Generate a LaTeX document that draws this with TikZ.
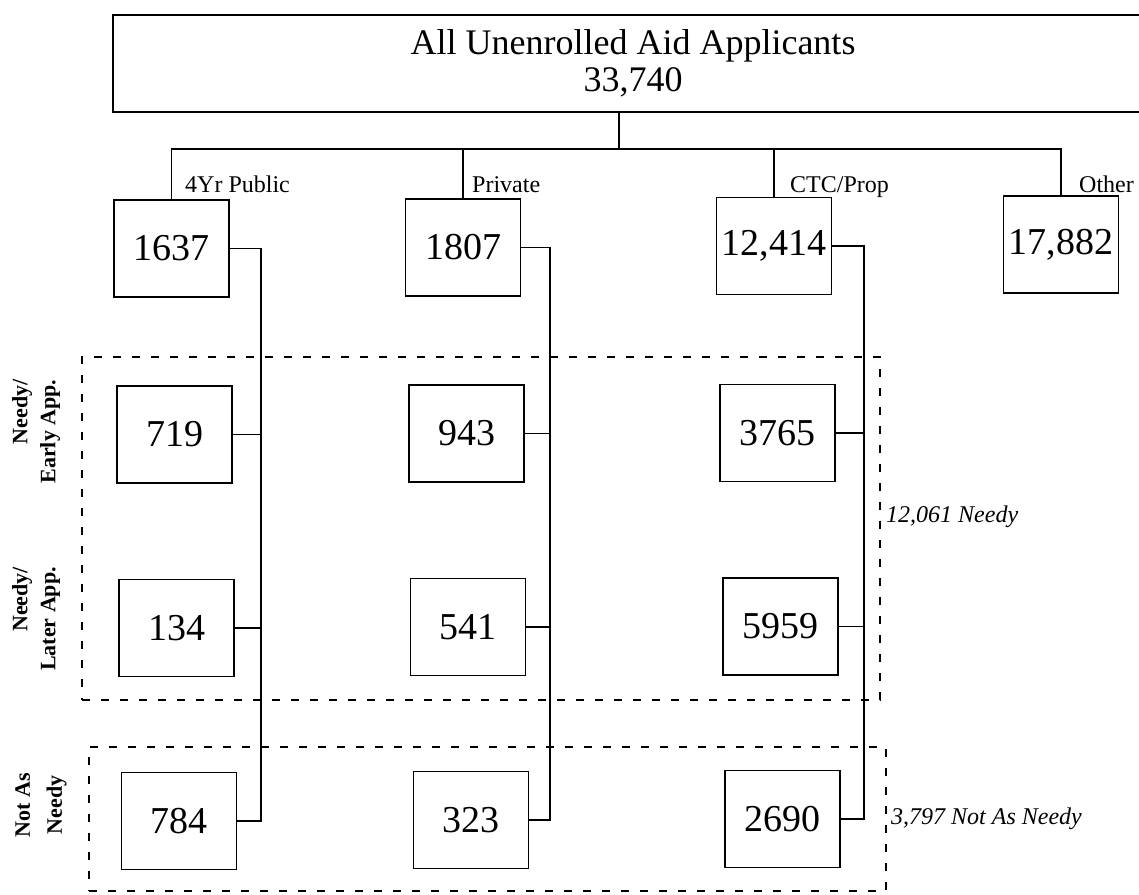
\documentclass[tikz,border=0pt]{standalone}
\usepackage{fontspec}
\setmainfont{Liberation Serif}
\usepackage{tikz}
\usetikzlibrary{positioning, calc}

\begin{document}
\begin{tikzpicture}[
  x=1pt, y=-1pt,
  line/.style={line width=1.5pt},
  head/.style={draw, line width=1.5pt, minimum width=1040pt, minimum height=97pt,
               inner sep=0pt, align=center, font=\fontsize{36}{37}\selectfont},
  numbox/.style={draw, line width=1.5pt, minimum width=115pt, minimum height=97pt,
                 inner sep=0pt, font=\fontsize{38}{40}\selectfont},
  branch/.style={anchor=base west, inner sep=0pt, font=\fontsize{24}{26}\selectfont},
  rowlbl/.style={rotate=90, inner sep=0pt, align=right,
                 font=\bfseries\fontsize{22}{28}\selectfont},
  total/.style={anchor=west, inner sep=0pt, font=\itshape\fontsize{24}{26}\selectfont},
  grp/.style={draw, line width=1.5pt, dash pattern=on 8pt off 11pt, inner sep=0pt},
]
\useasboundingbox (0,0) rectangle (1139,894);

% --- All applicants ---
\node[head] (all) at (633,63.5) {All Unenrolled Aid Applicants\\33,740};
\coordinate (bus) at (619,149);

% --- Sectors ---
\node[numbox] (pub) at (171.5,248.5) {1637};
\node[numbox] (prv) at (463,247.5) {1807};
\node[numbox] (ctc) at (774,246) {12,414};
\node[numbox] (oth) at (1061,244.5) {17,882};

\node[branch] (publbl) at (185,192) {4Yr Public};
\node[branch] (prvlbl) at (472,192) {Private};
\node[branch] (ctclbl) at (790,192) {CTC/Prop};
\node[branch] (othlbl) at (1079,192) {Other};

% --- Needy, early applicants ---
\node[numbox] (ea1) at (174.5,434.5) {719};
\node[numbox] (ea2) at (466.5,433.5) {943};
\node[numbox] (ea3) at (777.5,433) {3765};

% --- Needy, later applicants ---
\node[numbox] (la1) at (176.5,628) {134};
\node[numbox] (la2) at (468,627) {541};
\node[numbox] (la3) at (780.5,626.5) {5959};

% --- Not as needy ---
\node[numbox] (nn1) at (179,821) {784};
\node[numbox] (nn2) at (471,820) {323};
\node[numbox] (nn3) at (782.5,819) {2690};

% Group frames
\node[grp, minimum width=798pt, minimum height=343pt] (needy) at (481,528.5) {};
\node[grp, minimum width=797pt, minimum height=144pt] (notneedy) at (487.5,819) {};

% Row labels
\node[rowlbl] (earlylbl) at (36,431.5) {Needy/\\Early App.};
\node[rowlbl] (laterlbl) at (36,619) {Needy/\\Later App.};
\node[rowlbl, align=center, font=\bfseries\fontsize{22}{32}\selectfont] (notlbl) at (41,805) {Not As\\Needy};

% Totals
\node[total] (needytot) at (886,517) {12,061 Needy};
\node[total] (nottot) at (891,819) {3,797 Not As Needy};

% Tree
\draw[line] (all.south -| bus) -- (bus);
\draw[line] (pub.north) |- (oth.north |- bus) -- (oth.north);
\draw[line] (prv.north) -- (prv.north |- bus);
\draw[line] (ctc.north) -- (ctc.north |- bus);

% Column spines
\coordinate (pubx) at (261,0);
\coordinate (prvx) at (550,0);
\coordinate (ctcx) at (864,0);

\draw[line] (pub.east) -- (pub.east -| pubx) -- (nn1.east -| pubx) -- (nn1.east);
\draw[line] (ea1.east) -- (ea1.east -| pubx);
\draw[line] (la1.east) -- (la1.east -| pubx);

\draw[line] (prv.east) -- (prv.east -| prvx) -- (nn2.east -| prvx) -- (nn2.east);
\draw[line] (ea2.east) -- (ea2.east -| prvx);
\draw[line] (la2.east) -- (la2.east -| prvx);

\draw[line] (ctc.east) -- (ctc.east -| ctcx) -- (nn3.east -| ctcx) -- (nn3.east);
\draw[line] (ea3.east) -- (ea3.east -| ctcx);
\draw[line] (la3.east) -- (la3.east -| ctcx);
\end{tikzpicture}
\end{document}
